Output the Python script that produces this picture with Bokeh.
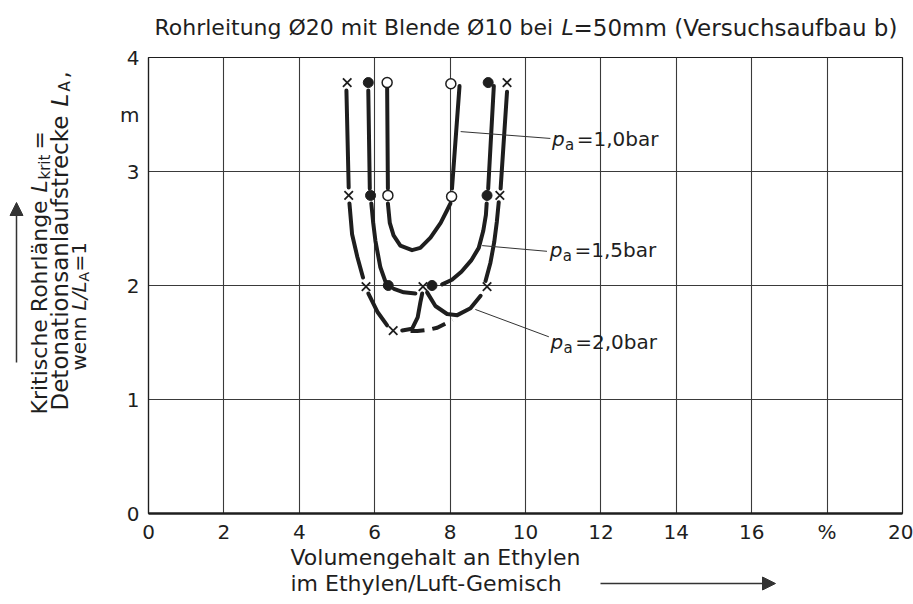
from math import pi
from bokeh.plotting import figure
from bokeh.layouts import column, row
from bokeh.models import Label, Arrow, NormalHead, FixedTicker, Range1d
from bokeh.embed import file_html
from bokeh.resources import INLINE

FONT = "DejaVu Sans"
INK = "#1e1e1e"

# ---------------- data (Vol.-% Ethylen, critical length in m) ----------------
# p_a = 1,0 bar  (open circles)
x10_pts = [6.33, 6.35, 8.02, 8.04]
y10_pts = [3.78, 2.79, 3.77, 2.78]
x10_a = [6.33, 6.35];                       y10_a = [3.73, 2.85]
x10_b = [6.35, 6.40, 6.50, 6.68, 6.99, 7.21, 7.48, 7.75, 7.92, 8.01]
y10_b = [2.72, 2.55, 2.44, 2.35, 2.31, 2.33, 2.42, 2.55, 2.66, 2.72]
x10_c = [8.25, 8.05];                       y10_c = [3.75, 2.85]

# p_a = 1,5 bar  (filled dots)
x15_pts = [5.83, 5.89, 6.36, 7.52, 8.98, 9.01]
y15_pts = [3.78, 2.79, 2.00, 2.00, 2.79, 3.78]
x15_a = [5.83, 5.87];                       y15_a = [3.71, 2.85]
x15_b = [5.91, 5.96, 6.02, 6.15, 6.29];     y15_b = [2.72, 2.55, 2.39, 2.16, 2.03]
x15_c = [6.51, 6.77, 7.08];                 y15_c = [1.97, 1.94, 1.93]
x15_d = [7.79, 8.05, 8.30, 8.56, 8.76, 8.88, 8.95, 8.97]
y15_d = [2.01, 2.05, 2.12, 2.22, 2.33, 2.48, 2.62, 2.72]
x15_e = [9.01, 9.16];                       y15_e = [2.85, 3.75]

# p_a = 2,0 bar  (crosses)
x20_pts = [5.27, 5.31, 5.77, 6.49, 7.28, 8.98, 9.32, 9.51]
y20_pts = [3.78, 2.79, 1.99, 1.605, 1.99, 1.99, 2.79, 3.78]
x20_a = [5.25, 5.31];                       y20_a = [3.71, 2.86]
x20_b = [5.33, 5.40, 5.54, 5.69];           y20_b = [2.72, 2.45, 2.25, 2.07]
x20_c = [5.83, 6.07, 6.33];                 y20_c = [1.93, 1.77, 1.65]
x20_d = [6.73, 6.99, 7.14, 7.21, 7.26];     y20_d = [1.605, 1.62, 1.72, 1.85, 1.93]
x20_e = [6.95, 7.13, 7.40, 7.66, 7.90, 8.06]
y20_e = [1.60, 1.60, 1.61, 1.63, 1.67, 1.70]
x20_f = [7.39, 7.61, 7.92, 8.19, 8.54, 8.81]
y20_f = [1.94, 1.82, 1.75, 1.74, 1.80, 1.91]
x20_g = [8.94, 9.07, 9.17, 9.24, 9.29];     y20_g = [2.04, 2.20, 2.38, 2.56, 2.73]
x20_h = [9.34, 9.51];                       y20_h = [2.85, 3.70]

# axes
x_ticks = [0, 2, 4, 6, 8, 10, 12, 14, 16, 18, 20]
x_tick_labels = {18: "%"}
y_ticks = [0, 1, 2, 3, 3.5, 4]
y_tick_labels = {3.5: "m"}
x_grid = [2, 4, 6, 8, 10, 12, 14, 16, 18]
y_grid = [1, 2, 3]

TOP_H, MAIN_H, BOT_H = 45, 500, 59
SHIFT = 8  # renderer places the alphabetic baseline ~8px low; compensate


def blank(w, h, xr, yr):
    f = figure(title=None, frame_width=w, frame_height=h, output_backend="svg",
               toolbar_location=None, x_range=Range1d(*xr), y_range=Range1d(*yr),
               x_axis_type=None, y_axis_type=None, min_border=0)
    f.outline_line_color = None
    f.background_fill_color = "white"
    f.border_fill_color = "white"
    return f


def lab(fig, x, y, text, size="22px", style="normal", angle=0.0):
    fig.add_layout(Label(x=x, y=y, text=text, angle=angle, text_font=FONT,
                         text_font_size=size, text_font_style=style,
                         text_color=INK, text_align="left",
                         text_baseline="alphabetic"))


# ---------------- main chart ----------------
p = figure(title=None, frame_width=754, frame_height=456, output_backend="svg",
           toolbar_location=None, x_range=Range1d(0, 20), y_range=Range1d(0, 4),
           min_border_left=48, min_border_right=11, min_border_top=12,
           min_border_bottom=32)
p.background_fill_color = "white"
p.border_fill_color = "white"
p.outline_line_color = INK
p.outline_line_width = 1.2

for ax in (p.xaxis[0], p.yaxis[0]):
    ax.major_tick_line_color = None
    ax.minor_tick_line_color = None
    ax.major_tick_out = 0
    ax.major_tick_in = 0
    ax.minor_tick_out = 0
    ax.minor_tick_in = 0
    ax.major_label_text_font = FONT
    ax.major_label_text_font_size = "20px"
    ax.major_label_text_color = INK
ax = p.xaxis[0]
ax.ticker = FixedTicker(ticks=x_ticks)
ax.major_label_overrides = x_tick_labels
ax.axis_line_width = 2.5
ax.axis_line_color = INK
ax.major_label_standoff = 6
ay = p.yaxis[0]
ay.ticker = FixedTicker(ticks=y_ticks)
ay.major_label_overrides = y_tick_labels
ay.axis_line_width = 1.2
ay.axis_line_color = INK
ay.major_label_standoff = 9

p.xgrid.ticker = FixedTicker(ticks=x_grid)
p.ygrid.ticker = FixedTicker(ticks=y_grid)
for g in (p.xgrid, p.ygrid):
    g.grid_line_color = "#3a3a3a"
    g.grid_line_width = 1.1

LW = 4
solid = [(x10_a, y10_a), (x10_b, y10_b), (x10_c, y10_c),
         (x15_a, y15_a), (x15_b, y15_b), (x15_c, y15_c), (x15_d, y15_d), (x15_e, y15_e),
         (x20_a, y20_a), (x20_b, y20_b), (x20_c, y20_c), (x20_d, y20_d),
         (x20_f, y20_f), (x20_g, y20_g), (x20_h, y20_h)]
for xs, ys in solid:
    p.line(xs, ys, line_width=LW, line_color=INK, line_cap="round", line_join="round")
p.line(x20_e, y20_e, line_width=LW, line_color=INK, line_dash="14 8", line_cap="butt")

p.scatter(x20_pts, y20_pts, marker="x", size=12, line_width=1.8, line_color=INK)
p.scatter(x15_pts, y15_pts, marker="circle", size=10, fill_color=INK, line_color=INK)
p.scatter(x10_pts, y10_pts, marker="circle", size=10, fill_color="white",
          line_color=INK, line_width=1.5)

# leaders
p.line([8.28, 10.66], [3.35, 3.29], line_width=1, line_color="#333333")
p.line([8.85, 10.57], [2.35, 2.30], line_width=1, line_color="#333333")
p.line([8.67, 10.62], [1.79, 1.55], line_width=1, line_color="#333333")

dy = SHIFT / 114.0
for (xp, yb, val) in [(10.70, 3.213, "=1,0bar"), (10.64, 2.237, "=1,5bar"),
                      (10.66, 1.43, "=2,0bar")]:
    lab(p, xp, yb + dy, "p", size="20px", style="italic")
    lab(p, xp + 0.35, yb + dy - 0.05, "a", size="15px")
    lab(p, xp + 0.66, yb + dy, val, size="20px")

# ---------------- title strip (page coordinates, y measured downwards) ----------
top = blank(913, TOP_H, (0, 913), (TOP_H, 0))
tb = 35 - SHIFT
lab(top, 154, tb, "Rohrleitung \u00d820 mit Blende \u00d810 bei ")
lab(top, 561, tb, "L", style="italic")
lab(top, 573, tb, "=50mm (Versuchsaufbau b)", size="23px")

# ---------------- y-axis title strip ----------------
A = pi / 2
y0 = TOP_H
left = blank(100, MAIN_H, (0, 100), (y0 + MAIN_H, y0))
b1, b2, b3 = 47 - SHIFT, 67 - SHIFT, 86 - SHIFT
lab(left, b1, 402, "Kritische Rohrlänge ", angle=A)
lab(left, b1, 180, "L", style="italic", angle=A)
lab(left, b1 + 5, 167, "krit", size="15px", angle=A)
lab(left, b1, 137, "=", angle=A)
lab(left, b2, 398, "Detonationsanlaufstrecke ", size="23px", angle=A)
lab(left, b2, 94, "L", size="23px", style="italic", angle=A)
lab(left, b2 + 5, 79, "A", size="15px", angle=A)
lab(left, b2, 66, ",", size="23px", angle=A)
lab(left, b3, 358, "wenn ", size="20px", angle=A)
lab(left, b3, 298, "L/L", size="20px", style="italic", angle=A)
lab(left, b3 + 5, 269, "A", size="14px", angle=A)
lab(left, b3, 259, "=1", size="20px", angle=A)
left.add_layout(Arrow(end=NormalHead(size=13, fill_color="#333333", line_color="#333333"),
                      x_start=16, y_start=350, x_end=16, y_end=190,
                      line_width=1.5, line_color="#333333"))

# ---------------- x-axis title strip ----------------
y1 = TOP_H + MAIN_H
bottom = blank(913, BOT_H, (0, 913), (y1 + BOT_H, y1))
lab(bottom, 290, 564 - SHIFT, "Volumengehalt an Ethylen")
lab(bottom, 290, 590 - SHIFT, "im Ethylen/Luft-Gemisch")
bottom.add_layout(Arrow(end=NormalHead(size=13, fill_color="#333333", line_color="#333333"),
                        x_start=600, y_start=582, x_end=775, y_end=582,
                        line_width=1.5, line_color="#333333"))

layout = column(top, row(left, p, spacing=0), bottom, spacing=0)
open("out.html", "w").write(file_html(layout, INLINE))
